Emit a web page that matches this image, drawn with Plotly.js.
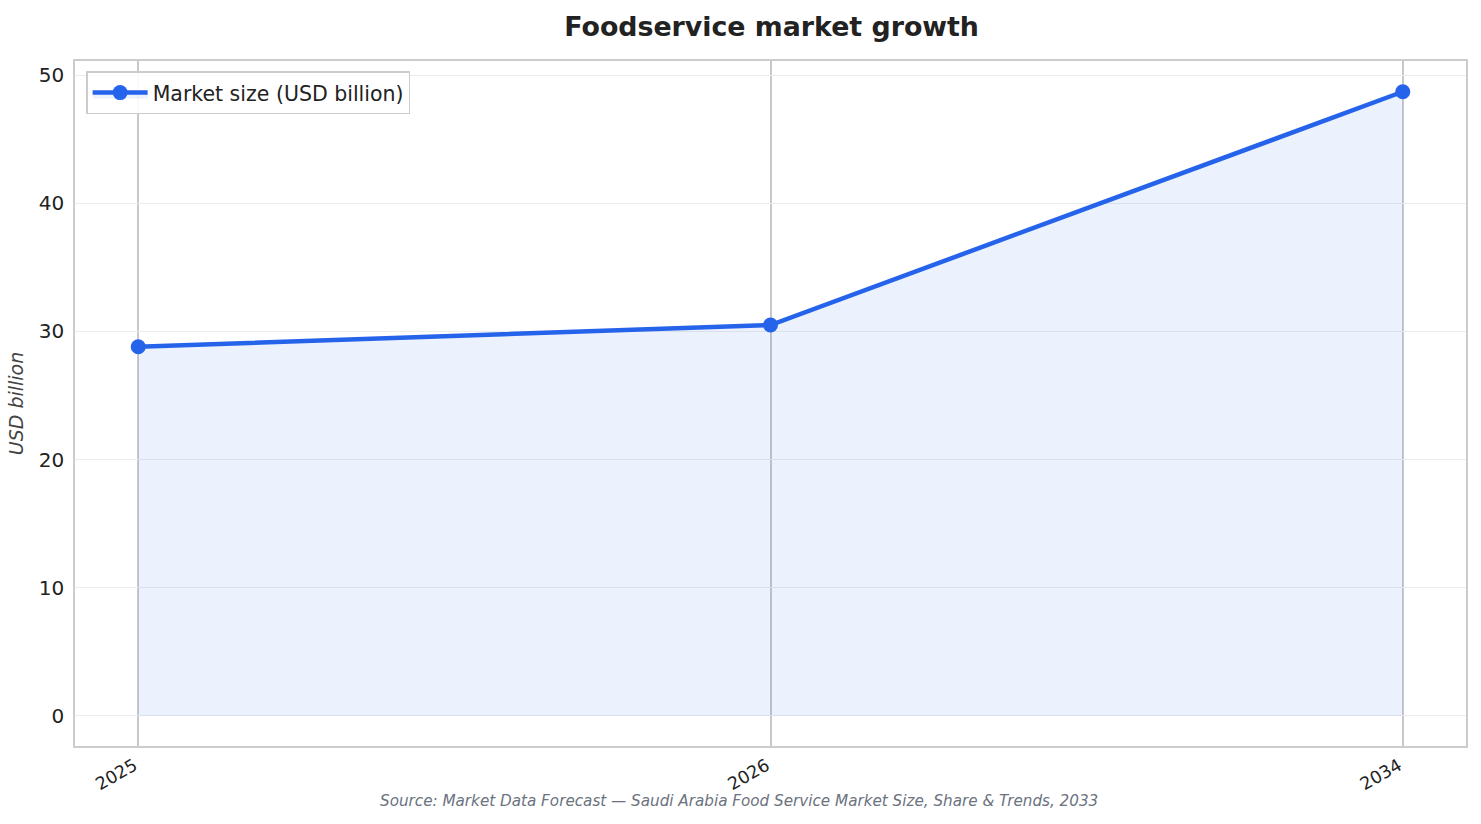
<!DOCTYPE html>
<html><head><meta charset="utf-8">
<script src="https://cdn.plot.ly/plotly-3.0.1.min.js"></script>
<style>html,body{margin:0;padding:0;background:#fff;}#chart{width:1481px;height:824px;}</style>
</head><body><div id="chart"></div>
<script>
const years = ["2025", "2026", "2034"];
const marketSize = [28.8, 30.5, 48.7];
const yTicks = [0, 10, 20, 30, 40, 50];
const seriesName = "Market size (USD billion)";
const chartTitle = "Foodservice market growth";
const yTitle = "USD billion";
const sourceNote = "Source: Market Data Forecast — Saudi Arabia Food Service Market Size, Share & Trends, 2033";

const blue = "#2563eb";
const font = "DejaVu Sans, sans-serif";

const traces = [{
  x: years, y: marketSize, type: "scatter", mode: "lines+markers",
  name: seriesName,
  line: {color: blue, width: 4.5},
  marker: {color: blue, size: 15},
  fill: "tozeroy", fillcolor: "rgba(37,99,235,0.09)"
}];

const layout = {
  width: 1481, height: 824,
  paper_bgcolor: "#fff", plot_bgcolor: "#fff",
  margin: {l: 75, r: 15, t: 61, b: 78},
  font: {family: font, color: "#222", size: 19},
  title: {text: "<b>" + chartTitle + "</b>", x: 0.521, xanchor: "center", y: 0.968, yanchor: "middle",
          font: {family: font, size: 26.8, color: "#222"}},
  showlegend: true,
  legend: {x: 0.008, y: 0.985, xanchor: "left", yanchor: "top", bgcolor: "rgba(255,255,255,0.9)",
           itemwidth: 55,
           bordercolor: "#cccccc", borderwidth: 1.5, font: {family: font, size: 20.5, color: "#222"}},
  xaxis: {type: "category", range: [-0.1, 2.1], tickangle: -30, showgrid: true, gridcolor: "#c8c8cc", gridwidth: 1.5,
          showline: true, mirror: true, linecolor: "#cccccc", linewidth: 1.5, zeroline: false,
          ticks: "outside", ticklen: 1, tickcolor: "rgba(0,0,0,0)", ticklabelshift: -4,
          tickfont: {family: font, size: 17.5, color: "#222"}},
  yaxis: {range: [-2.35, 51.1], tickvals: yTicks, showgrid: true, gridcolor: "#ececec", gridwidth: 1,
          showline: true, mirror: true, linecolor: "#cccccc", linewidth: 1.5, zeroline: false,
          ticks: "outside", ticklen: 5, tickcolor: "rgba(0,0,0,0)", tickfont: {family: font, size: 20, color: "#222"},
          title: {text: "<i>" + yTitle + "</i>", standoff: 10, font: {family: font, size: 19, color: "#444"}}},
  annotations: [{
    text: "<i>" + sourceNote + "</i>", xref: "paper", yref: "paper", x: 0.477, y: -0.08,
    xanchor: "center", yanchor: "middle", showarrow: false, font: {family: font, size: 15.2, color: "#6b7280"}
  }]
};

Plotly.newPlot("chart", traces, layout, {displayModeBar: false});
</script></body></html>
